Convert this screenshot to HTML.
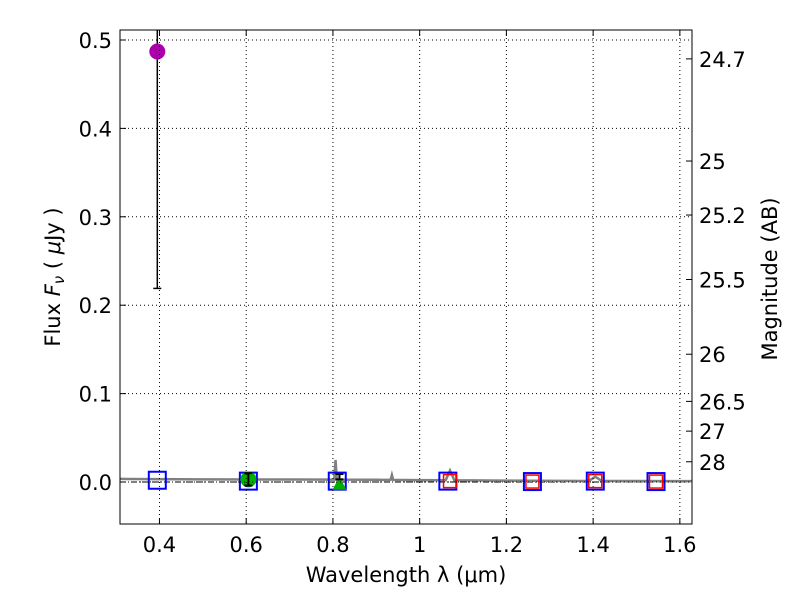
<!DOCTYPE html>
<html><head><meta charset="utf-8"><style>
body{margin:0;background:#fff;font-family:"DejaVu Sans","Liberation Sans",sans-serif}
svg text{font-family:"DejaVu Sans","Liberation Sans",sans-serif;font-size:21px;fill:#000}
</style></head><body>
<svg id="c" width="800" height="600"></svg>
<script>
const xTicks=[0.4,0.6,0.8,1.0,1.2,1.4,1.6];
const xTickLabels=["0.4","0.6","0.8","1","1.2","1.4","1.6"];
const yTicks=[0.0,0.1,0.2,0.3,0.4,0.5];
const yTickLabels=["0.0","0.1","0.2","0.3","0.4","0.5"];
const magTicks=[24.7,25,25.2,25.5,26,26.5,27,28];
const magLabels=["24.7","25","25.2","25.5","26","26.5","27","28"];
const specWave=[0.309,0.5,0.7,0.803,0.806,0.809,0.9,0.933,0.936,0.939,1.0,1.06,1.07,1.08,1.2,1.39,1.405,1.42,1.6,1.628];
const specFlux=[0.0035,0.003,0.0028,0.0027,0.025,0.0027,0.0025,0.0024,0.008,0.0024,0.0022,0.002,0.013,0.002,0.0015,0.0012,0.006,0.0012,0.001,0.001];
const blueWave=[0.395,0.605,0.81,1.065,1.26,1.405,1.545];
const blueFlux=[0.002,0.001,0.001,0.001,0.0005,0.001,0.0005];
const redWave=[1.07,1.26,1.405,1.545];
const redFlux=[0.001,0.0005,0.001,0.0005];
const magWave=[0.395];const magFlux=[0.487];const magErrLo=[0.219];const magErrHi=[0.6];
const grnWave=[0.605];const grnFlux=[0.003];const grnErr=[0.007];
const triWave=[0.815];const triFlux=[-0.002];const triErrLo=[0.003];const triErrHi=[0.009];
const L=120,R=692,T=30,B=524,X0=0.309,X1=1.628,Y0=-0.0475,Y1=0.5113;
const sx=v=>L+(v-X0)/(X1-X0)*(R-L), sy=v=>B-(v-Y0)/(Y1-Y0)*(B-T);
const svg=document.getElementById('c');const NS="http://www.w3.org/2000/svg";
function mk(t,a,p){const e=document.createElementNS(NS,t);for(const k in a)e.setAttribute(k,a[k]);(p||svg).appendChild(e);return e;}
const defs=mk('defs',{});const cp=mk('clipPath',{id:'cl'},defs);mk('rect',{x:L,y:T,width:R-L,height:B-T},cp);
const g=mk('g',{'clip-path':'url(#cl)'});
xTicks.forEach((v,i)=>{let e=mk('line',{x1:sx(v),x2:sx(v),y1:T,y2:B,stroke:'#000','stroke-dasharray':'1,3','stroke-width':1});

mk('line',{x1:sx(v),x2:sx(v),y1:B,y2:B-6,stroke:'#000'});mk('line',{x1:sx(v),x2:sx(v),y1:T,y2:T+6,stroke:'#000'});
let t=mk('text',{x:sx(v),y:B+28,'text-anchor':'middle'});t.textContent=xTickLabels[i];
});
yTicks.forEach((v,i)=>{let e=mk('line',{x1:L,x2:R,y1:sy(v),y2:sy(v),stroke:'#000','stroke-dasharray':'1,3'});

mk('line',{x1:L,x2:L+6,y1:sy(v),y2:sy(v),stroke:'#000'});
let t=mk('text',{x:L-8,y:sy(v)+8,'text-anchor':'end'});t.textContent=yTickLabels[i];
});
magTicks.forEach((m,i)=>{const f=Math.pow(10,(23.9-m)/2.5);const y=sy(f);
mk('line',{x1:R-6,x2:R,y1:y,y2:y,stroke:'#000'});
let t=mk('text',{x:R+7,y:y+8});t.textContent=magLabels[i];
});
let z=mk('line',{x1:L,x2:R,y1:sy(0),y2:sy(0),stroke:'#000','stroke-dasharray':'6,2,1,2'},g);

let sp=mk('polyline',{points:specWave.map((w,i)=>sx(w)+','+sy(specFlux[i])).join(' '),fill:'none',stroke:'#808080','stroke-width':2.5},g);

blueWave.forEach((w,i)=>{let r=mk('rect',{x:sx(w)-8.5,y:sy(blueFlux[i])-8.5,width:17,height:17,fill:'none',stroke:'#0000ff','stroke-width':2},g);
});
redWave.forEach((w,i)=>{let r=mk('rect',{x:sx(w)-6.5,y:sy(redFlux[i])-6.5,width:13,height:13,fill:'none',stroke:'#ff0000','stroke-width':1.5},g);
});
grnWave.forEach((w,i)=>{let c=mk('circle',{cx:sx(w),cy:sy(grnFlux[i]),r:8,fill:'#00b000'},g);

const y1=sy(grnFlux[i]-grnErr[i]),y2=sy(grnFlux[i]+grnErr[i]);
mk('line',{x1:sx(w),x2:sx(w),y1:y1,y2:y2,stroke:'#000','stroke-width':2},g);
mk('line',{x1:sx(w)-4,x2:sx(w)+4,y1:y1,y2:y1,stroke:'#000','stroke-width':2},g);
mk('line',{x1:sx(w)-4,x2:sx(w)+4,y1:y2,y2:y2,stroke:'#000','stroke-width':2},g);});
triWave.forEach((w,i)=>{const x=sx(w),y=sy(triFlux[i]);let p=mk('polygon',{points:`${x-7},${y+6} ${x+7},${y+6} ${x},${y-7}`,fill:'#00b000'},g);

const y1=sy(triErrLo[i]),y2=sy(triErrHi[i]);
mk('line',{x1:x,x2:x,y1:y1,y2:y2,stroke:'#000','stroke-width':2},g);
mk('line',{x1:x-4,x2:x+4,y1:y1,y2:y1,stroke:'#000','stroke-width':2},g);
mk('line',{x1:x-4,x2:x+4,y1:y2,y2:y2,stroke:'#000','stroke-width':2},g);});
magWave.forEach((w,i)=>{const x=sx(w);const y1=sy(magErrLo[i]),y2=sy(magErrHi[i]);
mk('line',{x1:x,x2:x,y1:y1,y2:y2,stroke:'#000','stroke-width':1.5},g);
mk('line',{x1:x-4,x2:x+4,y1:y1,y2:y1,stroke:'#000','stroke-width':1.5},g);
let c=mk('circle',{cx:x,cy:sy(magFlux[i]),r:8,fill:'#aa00aa'},g);
});
let fr=mk('rect',{x:L,y:T,width:R-L,height:B-T,fill:'none',stroke:'#000','stroke-width':1});

let xt=mk('text',{x:406,y:582,'text-anchor':'middle'});xt.textContent='Wavelength  λ (μm)';

let yt=mk('text',{x:60,y:277,'text-anchor':'middle',transform:'rotate(-90 60 277)'});
yt.innerHTML='Flux  <tspan font-style="italic">F<tspan font-size="15" dy="4">ν</tspan></tspan><tspan dy="-4">  ( </tspan><tspan font-style="italic">μ</tspan>Jy )';

let rt=mk('text',{x:777,y:279,'text-anchor':'middle',transform:'rotate(-90 777 279)'});rt.textContent='Magnitude (AB)';

</script></body></html>
